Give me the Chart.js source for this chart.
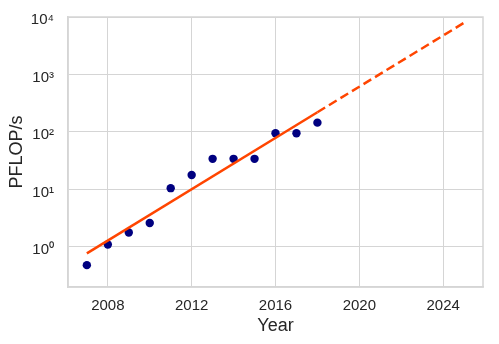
<!DOCTYPE html>
<html>
<head>
<meta charset="utf-8">
<script src="https://cdn.jsdelivr.net/npm/chart.js@4"></script>
<style>
  html, body { margin: 0; padding: 0; background: #fff; }
  canvas { display: block; }
</style>
</head>
<body>
<canvas id="miGrafico" width="499" height="344"></canvas>
<script>
// datos
const anios = [2007, 2008, 2009, 2010, 2011, 2012, 2013, 2014, 2015, 2016, 2017, 2018];
const pflops = [0.48, 1.1, 1.78, 2.6, 10.5, 17.8, 34, 34, 34, 95, 95, 145];

// recta de ajuste (tramo solido) y proyeccion (tramo discontinuo)
const ajusteAnios = [2007, 2018];
const ajusteValores = [0.77, 220];
const proyAnios = [2018, 2025];
const proyValores = [220, 7950];

const xTicks = [2008, 2012, 2016, 2020, 2024];
const yTicks = [1, 10, 100, 1000, 10000];
const sup = {0: '⁰', 1: '¹', 2: '²', 3: '³', 4: '⁴'};

const aPuntos = (xs, ys) => xs.map((x, i) => ({x: x, y: ys[i]}));

const textoColor = '#262626';
const gridColor = '#d5d5d5';
const fuente = 'Arial, "Liberation Sans", sans-serif';

// sin relleno extra por las etiquetas de los extremos
const sinRelleno = (eje) => {
    eje.paddingTop = 0;
    eje.paddingBottom = 0;
    eje.paddingLeft = 0;
    eje.paddingRight = 0;
};

const contenedor = document.getElementById('miGrafico');
const miGrafico = new Chart(contenedor, {
    type: 'scatter',
    data: {
        datasets: [
            {
                type: 'line',
                label: 'Ajuste',
                data: aPuntos(ajusteAnios, ajusteValores),
                borderColor: '#ff4500',
                borderWidth: 2.5,
                pointRadius: 0,
                fill: false
            },
            {
                type: 'line',
                label: 'Proyeccion',
                data: aPuntos(proyAnios, proyValores),
                borderColor: '#ff4500',
                borderWidth: 2.5,
                borderDash: [9, 4.5],
                pointRadius: 0,
                fill: false
            },
            {
                label: 'PFLOP/s',
                data: aPuntos(anios, pflops),
                backgroundColor: '#000080',
                borderColor: '#000080',
                borderWidth: 0,
                pointRadius: 4.2
            }
        ]
    },
    options: {
        responsive: false,
        animation: false,
        layout: { padding: { left: 0, right: 16, top: 17, bottom: 0 } },
        plugins: {
            legend: { display: false },
            tooltip: { enabled: false }
        },
        scales: {
            x: {
                type: 'linear',
                min: 2006.1,
                max: 2025.9,
                afterBuildTicks: (eje) => { eje.ticks = xTicks.map(v => ({value: v})); },
                afterFit: (eje) => { eje.height = 57; sinRelleno(eje); },
                grid: { color: gridColor, lineWidth: 1, drawTicks: false },
                border: { color: gridColor, width: 1.5 },
                ticks: {
                    color: textoColor,
                    font: { family: fuente, size: 15 },
                    padding: 10,
                    maxRotation: 0,
                    autoSkip: false,
                    callback: (v) => String(v)
                },
                title: {
                    display: true,
                    text: 'Year',
                    color: textoColor,
                    font: { family: fuente, size: 18 },
                    padding: { top: 0, bottom: 7 }
                }
            },
            y: {
                type: 'logarithmic',
                min: 0.2,
                max: 10000,
                afterBuildTicks: (eje) => { eje.ticks = yTicks.map(v => ({value: v})); },
                afterFit: (eje) => { eje.width = 68; sinRelleno(eje); },
                grid: { color: gridColor, lineWidth: 1, drawTicks: false },
                border: { color: gridColor, width: 1.5 },
                ticks: {
                    color: textoColor,
                    font: { family: fuente, size: 15 },
                    padding: 14,
                    labelOffset: 3,
                    autoSkip: false,
                    callback: (v) => '10' + sup[Math.round(Math.log10(v))]
                },
                title: {
                    display: true,
                    text: 'PFLOP/s',
                    color: textoColor,
                    font: { family: fuente, size: 18 },
                    padding: { top: 6, bottom: 0 }
                }
            }
        }
    },
    plugins: [{
        id: 'marco',
        afterDraw(chart) {
            const a = chart.chartArea;
            const ctx = chart.ctx;
            ctx.save();
            ctx.strokeStyle = gridColor;
            ctx.lineWidth = 1.5;
            ctx.strokeRect(a.left, a.top, a.right - a.left, a.bottom - a.top);
            ctx.restore();
        }
    }]
});
</script>
</body>
</html>
